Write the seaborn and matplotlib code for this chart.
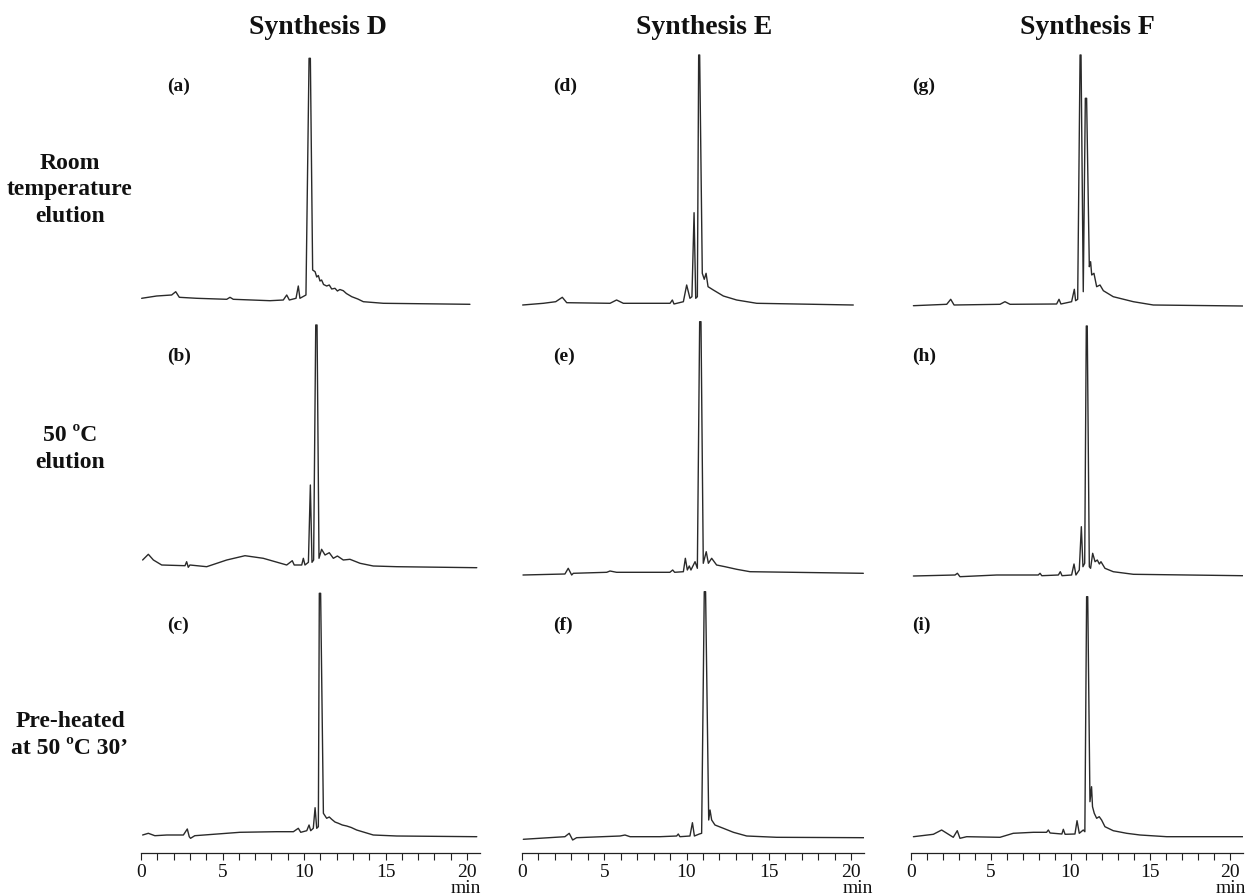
import matplotlib
matplotlib.use("Agg")
import matplotlib.pyplot as plt
import seaborn as sns

# Headings
syntheses = ["Synthesis D", "Synthesis E", "Synthesis F"]
conditions = ["Room\ntemperature\nelution", "50 ºC\nelution", "Pre-heated\nat 50 ºC 30’"]
panel_tags = [["(a)", "(b)", "(c)"], ["(d)", "(e)", "(f)"], ["(g)", "(h)", "(i)"]]
time_ticks = [0, 5, 10, 15, 20]

# Traced chromatograms: retention time (min) and detector signal (a.u.)
a_time = [0.04, 0.96, 1.88, 2.13, 2.35, 3.42, 5.26, 5.46, 5.66, 7.91, 8.73, 8.94, 9.10, 9.51, 9.65,
          9.75, 10.12, 10.31, 10.39, 10.53, 10.68, 10.78, 10.88, 10.98, 11.08, 11.20, 11.39, 11.55,
          11.70, 11.90, 12.05, 12.20, 12.41, 12.60, 12.93, 13.30, 13.64, 14.87, 20.18]
a_signal = [1.7, 4.0, 5.0, 8.3, 2.7, 1.7, 0.7, 2.7, 0.7, -0.7, 0.0, 5.0, 0.0, 1.7, 14.0,
            1.7, 5.0, 241.7, 241.7, 30.0, 28.3, 23.0, 24.5, 19.0, 20.0, 15.5, 14.0, 15.0,
            11.0, 11.7, 9.0, 10.5, 9.3, 6.5, 3.3, 1.0, -1.7, -3.3, -4.3]

b_time = [0.10, 0.45, 0.76, 1.27, 2.70, 2.80, 2.90, 3.00, 4.03, 5.26, 6.38, 7.50, 8.94, 9.28, 9.40,
          9.86, 9.96, 10.06, 10.27, 10.39, 10.49, 10.59, 10.72, 10.80, 10.92, 11.08, 11.29, 11.55,
          11.80, 12.05, 12.41, 12.82, 13.44, 14.25, 15.69, 20.60]
b_signal = [10.0, 15.7, 10.0, 5.0, 4.3, 8.3, 2.7, 5.0, 3.3, 10.0, 14.3, 11.7, 5.0, 9.3, 5.0,
            5.0, 11.7, 5.0, 7.7, 85.0, 7.7, 10.0, 245.0, 245.0, 11.7, 20.7, 15.0, 17.3,
            11.7, 14.0, 10.0, 10.7, 6.7, 4.0, 3.3, 2.3]

c_time = [0.10, 0.45, 0.85, 1.58, 2.60, 2.84, 2.96, 3.04, 3.30, 6.07, 8.32, 9.35, 9.65, 9.80, 10.17,
          10.31, 10.41, 10.57, 10.68, 10.78, 10.88, 10.94, 11.02, 11.19, 11.39, 11.55, 11.70,
          11.90, 12.11, 12.35, 12.62, 12.90, 13.23, 14.25, 15.69, 20.60]
c_signal = [5.0, 6.7, 4.3, 5.0, 5.0, 11.0, 3.3, 1.7, 4.3, 7.7, 8.3, 8.3, 11.7, 7.7, 9.3,
            15.0, 9.3, 11.7, 32.3, 11.7, 13.3, 246.7, 246.7, 26.7, 21.7, 23.0, 20.7,
            18.0, 16.7, 15.0, 14.0, 12.5, 10.0, 5.0, 4.0, 3.3]

d_time = [0.04, 1.30, 2.05, 2.45, 2.72, 5.35, 5.75, 6.16, 9.00, 9.14, 9.24, 9.81, 10.01, 10.21,
          10.33, 10.46, 10.56, 10.66, 10.74, 10.80, 10.96, 11.08, 11.19, 11.31, 11.63, 12.24,
          13.05, 14.27, 20.14]
d_signal = [-5.0, -3.3, -1.7, 2.7, -2.7, -3.3, 0.0, -3.3, -3.3, 0.0, -4.0, -1.7, 15.0, 1.7,
            3.3, 87.3, 1.7, 3.3, 245.0, 245.0, 26.7, 20.7, 26.7, 13.3, 10.0, 4.0,
            0.0, -3.3, -5.0]

e_time = [0.06, 2.61, 2.81, 3.02, 3.12, 5.15, 5.35, 5.75, 8.99, 9.16, 9.28, 9.81, 9.93, 10.05,
          10.17, 10.27, 10.52, 10.66, 10.80, 10.88, 11.02, 11.20, 11.33, 11.53, 11.83, 12.34,
          13.05, 13.86, 20.75]
e_signal = [-5.0, -4.0, 1.7, -5.0, -3.3, -2.3, -1.0, -2.3, -2.3, 0.0, -2.3, -1.7, 11.7, 0.0,
            4.0, 0.0, 8.3, 1.7, 248.3, 248.3, 6.7, 18.3, 6.7, 11.7, 5.0, 3.3,
            0.7, -1.7, -3.3]

f_time = [0.08, 2.61, 2.87, 3.08, 3.32, 5.96, 6.26, 6.57, 8.39, 9.40, 9.50, 9.60, 10.21, 10.36,
          10.48, 10.78, 10.92, 11.08, 11.16, 11.35, 11.43, 11.53, 11.73, 12.24, 12.85, 13.66,
          15.48, 20.80]
f_signal = [0.7, 3.3, 6.7, 0.0, 2.3, 4.0, 5.0, 3.3, 3.3, 4.0, 6.0, 3.3, 4.0, 17.3,
            4.0, 6.0, 6.7, 248.3, 248.3, 20.0, 30.0, 20.0, 15.0, 11.7, 7.7, 4.0,
            2.7, 2.3]

g_time = [0.15, 2.24, 2.49, 2.70, 5.58, 5.89, 6.21, 9.13, 9.28, 9.40, 10.07, 10.24, 10.32, 10.45,
          10.60, 10.66, 10.80, 10.93, 11.01, 11.18, 11.26, 11.33, 11.47, 11.64, 11.85, 12.06,
          12.68, 13.94, 15.19, 20.80]
g_signal = [-5.7, -4.3, 0.7, -5.0, -4.3, -1.7, -4.3, -4.0, 0.7, -4.0, -1.7, 10.7, -0.7, 0.7,
            245.0, 245.0, 8.3, 201.7, 201.7, 33.3, 38.3, 25.0, 26.7, 13.3, 15.0, 9.3,
            3.3, -1.7, -5.0, -6.0]

h_time = [0.15, 2.76, 2.91, 3.07, 5.37, 7.98, 8.09, 8.20, 9.24, 9.36, 9.47, 10.07, 10.22, 10.34,
          10.55, 10.68, 10.78, 10.89, 10.99, 11.05, 11.18, 11.26, 11.39, 11.54, 11.68, 11.81,
          11.91, 12.16, 12.68, 13.94, 20.80]
h_signal = [-6.0, -5.0, -3.3, -6.7, -5.0, -5.0, -3.3, -5.7, -5.0, -1.7, -5.7, -5.0, 6.0, -5.0,
            0.0, 43.3, 3.3, 6.7, 244.0, 244.0, 3.3, 1.7, 16.7, 8.3, 10.0, 6.0,
            8.3, 1.7, -1.7, -4.3, -5.7]

i_time = [0.15, 1.40, 1.92, 2.65, 2.90, 3.07, 3.49, 5.58, 6.41, 7.67, 8.50, 8.61, 8.72, 9.46, 9.55,
          9.66, 10.28, 10.41, 10.55, 10.80, 10.90, 11.01, 11.08, 11.22, 11.32, 11.38, 11.49,
          11.64, 11.80, 11.95, 12.16, 12.68, 13.52, 14.36, 16.03, 20.80]
i_signal = [3.3, 5.7, 10.0, 2.7, 9.3, 1.7, 3.3, 2.7, 6.7, 7.7, 7.7, 10.0, 7.0, 6.0, 10.7,
            5.7, 6.0, 19.3, 6.7, 10.0, 8.3, 243.3, 243.3, 38.3, 53.3, 33.3, 26.7,
            21.7, 23.3, 20.0, 13.3, 9.3, 6.7, 5.0, 3.3, 3.3]

traces = [[(a_time, a_signal), (b_time, b_signal), (c_time, c_signal)],
          [(d_time, d_signal), (e_time, e_signal), (f_time, f_signal)],
          [(g_time, g_signal), (h_time, h_signal), (i_time, i_signal)]]

sns.set_theme(style="white")
plt.rcParams["font.family"] = ["Liberation Serif", "DejaVu Serif"]

W, H = 1250, 896
fig = plt.figure(figsize=(W / 100, H / 100), dpi=100)


def px_rect(left, bottom, width, height):
    # convert a pixel box (bottom measured from top of image) to figure fractions
    return [left / W, 1 - bottom / H, width / W, height / H]


# Layout in pixels
col_x0 = [141, 522, 911]
col_scale = [16.3, 16.45, 15.95]
row_bottom = [313, 583, 853]
panel_h = 263
t_max = 20.8
line_color = "#2a2a2a"

for c in range(3):
    for r in range(3):
        t, s = traces[c][r]
        ax = fig.add_axes(px_rect(col_x0[c], row_bottom[r], t_max * col_scale[c], panel_h))
        sns.lineplot(x=t, y=s, ax=ax, color=line_color, linewidth=1.0,
                     estimator=None, sort=False)
        ax.set_xlim(0, t_max)
        ax.set_ylim(-13, 250)
        ax.set_facecolor("none")
        ax.set_xlabel("")
        ax.set_ylabel("")
        ax.set_yticks([])
        for side in ["top", "left", "right"]:
            ax.spines[side].set_visible(False)
        if r < 2:
            ax.spines["bottom"].set_visible(False)
            ax.set_xticks([])
        else:
            ax.spines["bottom"].set_color("#222222")
            ax.spines["bottom"].set_linewidth(0.9)
            ax.set_xticks(time_ticks)
            ax.set_xticks(range(0, 21), minor=True)
            ax.tick_params(axis="x", which="both", direction="out", length=5,
                           width=0.8, color="#222222", bottom=True, pad=3,
                           labelsize=14, labelcolor="#111111")

# Column titles
for c, name in enumerate(syntheses):
    x_mid = [318, 704, 1087][c]
    fig.text(x_mid / W, 1 - 28 / H, name, ha="center", va="center",
             fontsize=20, fontweight="bold", color="#111111")

# Row labels
for r, cond in enumerate(conditions):
    y_mid = [190, 449, 735][r]
    fig.text(70 / W, 1 - y_mid / H, cond, ha="center", va="center",
             fontsize=17, fontweight="bold", linespacing=1.35, color="#111111")

# Panel tags
tag_x = [167, 553, 912]
tag_y = [86, 356, 625]
for c in range(3):
    for r in range(3):
        fig.text(tag_x[c] / W, 1 - tag_y[r] / H, panel_tags[c][r], ha="left", va="center",
                 fontsize=14, fontweight="bold", color="#111111")

# "min" unit under each time axis
for x_mid in [466, 858, 1231]:
    fig.text(x_mid / W, 1 - 888 / H, "min", ha="center", va="center",
             fontsize=14, color="#111111")

fig.savefig("out.png", dpi=100, facecolor="white")
